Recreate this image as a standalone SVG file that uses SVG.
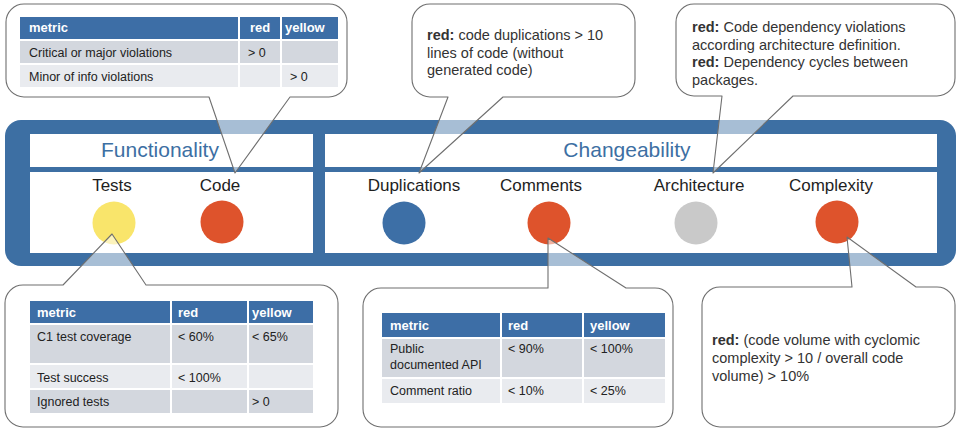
<svg xmlns="http://www.w3.org/2000/svg" width="959" height="431" viewBox="0 0 959 431">
  <style>
    text { font-family: "Liberation Sans", Arial, sans-serif; }
    .band { fill: #3d6fa3; }
    .panel { fill: #ffffff; }
    .group-title { font-size: 21px; fill: #3d6fa3; text-anchor: middle; }
    .metric-label { font-size: 17px; fill: #1e1e1e; text-anchor: middle; }
    .bubble { fill: #ffffff; fill-opacity: 0.55; stroke: #6f6f6f; stroke-width: 1.1; stroke-linejoin: round; }
    .note { font-size: 14.5px; fill: #333333; }
    .note tspan.b { font-weight: bold; }
    .th { fill: #3d6ea6; }
    .th-text { font-size: 13px; font-weight: bold; fill: #ffffff; }
    .row-a { fill: #d3d7de; }
    .row-b { fill: #e9ebef; }
    .td { font-size: 12.5px; fill: #222222; }
  </style>

  <!-- quality band with the two category panels -->
  <g id="band">
    <rect class="band" x="5" y="120" width="951" height="146" rx="16"/>
    <rect class="panel" x="30" y="134" width="283" height="33"/>
    <rect class="panel" x="30" y="172" width="283" height="81"/>
    <rect class="panel" x="325" y="134" width="612" height="33"/>
    <rect class="panel" x="325" y="172" width="612" height="81"/>
    <text class="group-title" x="160" y="157">Functionality</text>
    <text class="group-title" x="627" y="157">Changeability</text>
  </g>

  <!-- metric nodes -->
  <g id="tests">
    <text class="metric-label" x="112" y="191">Tests</text>
    <circle cx="114" cy="223" r="21.5" fill="#f9e56b"/>
  </g>
  <g id="code">
    <text class="metric-label" x="220" y="191">Code</text>
    <circle cx="222" cy="222" r="21.5" fill="#de532c"/>
  </g>
  <g id="duplications">
    <text class="metric-label" x="414" y="191">Duplications</text>
    <circle cx="404" cy="223" r="21.5" fill="#3d6fa6"/>
  </g>
  <g id="comments">
    <text class="metric-label" x="541" y="191">Comments</text>
    <circle cx="549" cy="223" r="21.5" fill="#de532c"/>
  </g>
  <g id="architecture">
    <text class="metric-label" x="699" y="191">Architecture</text>
    <circle cx="696" cy="223" r="21.5" fill="#c9c9c9"/>
  </g>
  <g id="complexity">
    <text class="metric-label" x="831" y="191">Complexity</text>
    <circle cx="837" cy="222" r="21.5" fill="#de532c"/>
  </g>

  <!-- callouts: speech bubbles whose tails point at the metrics -->
  <g id="connectors">
    <g id="callout-code">
      <path class="bubble" d="M24,4 H329 A18,18 0 0 1 347,22 V79 A18,18 0 0 1 329,97 H290 L235,173 L209,97 H24 A18,18 0 0 1 6,79 V22 A18,18 0 0 1 24,4 Z"/>
      <rect class="th" x="20" y="17" width="318" height="22"/>
      <rect class="row-a" x="20" y="41" width="318" height="22"/>
      <rect class="row-b" x="20" y="65" width="318" height="22"/>
      <g fill="#ffffff">
        <rect x="238" y="17" width="2" height="70"/>
        <rect x="280" y="17" width="2" height="70"/>
      </g>
      <text class="th-text" x="29" y="32">metric</text>
      <text class="th-text" x="250" y="32">red</text>
      <text class="th-text" x="285" y="32">yellow</text>
      <text class="td" x="29" y="57">Critical or major violations</text>
      <text class="td" x="248" y="57">&gt; 0</text>
      <text class="td" x="29" y="81">Minor of info violations</text>
      <text class="td" x="290" y="81">&gt; 0</text>
    </g>

    <g id="callout-duplications">
      <path class="bubble" d="M430,4 H617 A18,18 0 0 1 635,22 V79 A18,18 0 0 1 617,97 H503 L419,173 L448,97 H430 A18,18 0 0 1 412,79 V22 A18,18 0 0 1 430,4 Z"/>
      <text class="note" x="427" y="40"><tspan class="b">red:</tspan> code duplications &gt; 10</text>
      <text class="note" x="427" y="57.5">lines of code (without</text>
      <text class="note" x="427" y="75">generated code)</text>
    </g>

    <g id="callout-architecture">
      <path class="bubble" d="M694,4 H937 A18,18 0 0 1 955,22 V78 A18,18 0 0 1 937,96 H793 L713,173 L722,96 H694 A18,18 0 0 1 676,78 V22 A18,18 0 0 1 694,4 Z"/>
      <text class="note" x="692" y="32"><tspan class="b">red:</tspan> Code dependency violations</text>
      <text class="note" x="692" y="49.5">according architecture definition.</text>
      <text class="note" x="692" y="67"><tspan class="b">red:</tspan> Dependency cycles between</text>
      <text class="note" x="692" y="84.5">packages.</text>
    </g>

    <g id="callout-tests">
      <path class="bubble" d="M23,285 H63 L112,234 L146,285 H320 A18,18 0 0 1 338,303 V409 A18,18 0 0 1 320,427 H23 A18,18 0 0 1 5,409 V303 A18,18 0 0 1 23,285 Z"/>
      <rect class="th" x="30" y="301" width="283" height="22"/>
      <rect class="row-a" x="30" y="325" width="283" height="38"/>
      <rect class="row-b" x="30" y="365" width="283" height="23"/>
      <rect class="row-a" x="30" y="390" width="283" height="23"/>
      <g fill="#ffffff">
        <rect x="170" y="301" width="2" height="112"/>
        <rect x="247" y="301" width="2" height="112"/>
      </g>
      <text class="th-text" x="37" y="317">metric</text>
      <text class="th-text" x="178" y="317">red</text>
      <text class="th-text" x="252" y="317">yellow</text>
      <text class="td" x="37" y="341">C1 test coverage</text>
      <text class="td" x="178" y="341">&lt; 60%</text>
      <text class="td" x="252" y="341">&lt; 65%</text>
      <text class="td" x="37" y="382">Test success</text>
      <text class="td" x="178" y="382">&lt; 100%</text>
      <text class="td" x="37" y="406">Ignored tests</text>
      <text class="td" x="252" y="406">&gt; 0</text>
    </g>

    <g id="callout-comments">
      <path class="bubble" d="M381,288 H548 L548,238 L626,288 H655 A18,18 0 0 1 673,306 V409 A18,18 0 0 1 655,427 H381 A18,18 0 0 1 363,409 V306 A18,18 0 0 1 381,288 Z"/>
      <rect class="th" x="382" y="313" width="283" height="24"/>
      <rect class="row-a" x="382" y="339" width="283" height="38"/>
      <rect class="row-b" x="382" y="379" width="283" height="24"/>
      <g fill="#ffffff">
        <rect x="500" y="313" width="2" height="90"/>
        <rect x="582" y="313" width="2" height="90"/>
      </g>
      <text class="th-text" x="390" y="330">metric</text>
      <text class="th-text" x="508" y="330">red</text>
      <text class="th-text" x="590" y="330">yellow</text>
      <text class="td" x="390" y="353">Public</text>
      <text class="td" x="390" y="369">documented API</text>
      <text class="td" x="508" y="353">&lt; 90%</text>
      <text class="td" x="590" y="353">&lt; 100%</text>
      <text class="td" x="390" y="395">Comment ratio</text>
      <text class="td" x="508" y="395">&lt; 10%</text>
      <text class="td" x="590" y="395">&lt; 25%</text>
    </g>

    <g id="callout-complexity">
      <path class="bubble" d="M720,287 H852 L847,237 L916,287 H937 A18,18 0 0 1 955,305 V409 A18,18 0 0 1 937,427 H720 A18,18 0 0 1 702,409 V305 A18,18 0 0 1 720,287 Z"/>
      <text class="note" x="712" y="345"><tspan class="b">red:</tspan> (code volume with cyclomic</text>
      <text class="note" x="712" y="363">complexity &gt; 10 / overall code</text>
      <text class="note" x="712" y="381">volume) &gt; 10%</text>
    </g>
  </g>
</svg>
